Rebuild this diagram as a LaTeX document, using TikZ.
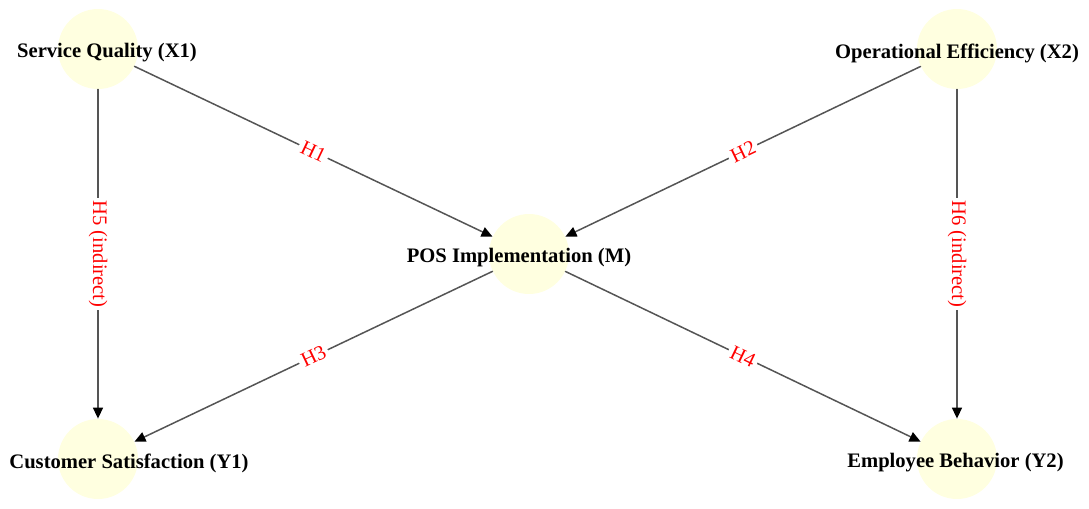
\documentclass[tikz,border=0pt]{standalone}
\usepackage{fontspec}
\setmainfont{Liberation Serif}
\usetikzlibrary{arrows.meta}
\definecolor{nodefill}{HTML}{FFFFE0}
\definecolor{edgegray}{HTML}{555555}
\tikzset{
  var/.style={circle, fill=nodefill, minimum size=40pt, inner sep=0pt},
  varname/.style={font=\fontsize{10.3}{12}\selectfont\bfseries, yshift=-2pt},
  link/.style={draw=edgegray, line width=0.75pt, -{Triangle[length=5.5pt,width=5pt,color=black]}},
  hyp/.style={sloped, fill=white, text=red, inner sep=1.5pt, font=\fontsize{10.3}{12}\selectfont}
}
\begin{document}
\begin{tikzpicture}[x=0.5pt, y=-0.5pt, line join=round, line cap=round]
  \useasboundingbox (0,0) rectangle (1089,509);
  % variables
  \node[var, label={[varname, xshift=4.5pt]center:Service Quality (X1)}] (X1) at (98,49) {};
  \node[var, label={[varname]center:Operational Efficiency (X2)}] (X2) at (957,49) {};
  \node[var, label={[varname, xshift=-5pt]center:POS Implementation (M)}] (M) at (529,254) {};
  \node[var, label={[varname, xshift=15.5pt]center:Customer Satisfaction (Y1)}] (Y1) at (98,459) {};
  \node[var, label={[varname, xshift=-0.75pt]center:Employee Behavior (Y2)}] (Y2) at (957,459) {};
  % hypotheses
  \foreach \a/\b/\h in {X1/M/H1, X2/M/H2, M/Y1/H3, M/Y2/H4, X1/Y1/H5 (indirect), X2/Y2/H6 (indirect)}
    \draw[link] (\a) -- node[hyp]{\h} (\b);
\end{tikzpicture}
\end{document}
